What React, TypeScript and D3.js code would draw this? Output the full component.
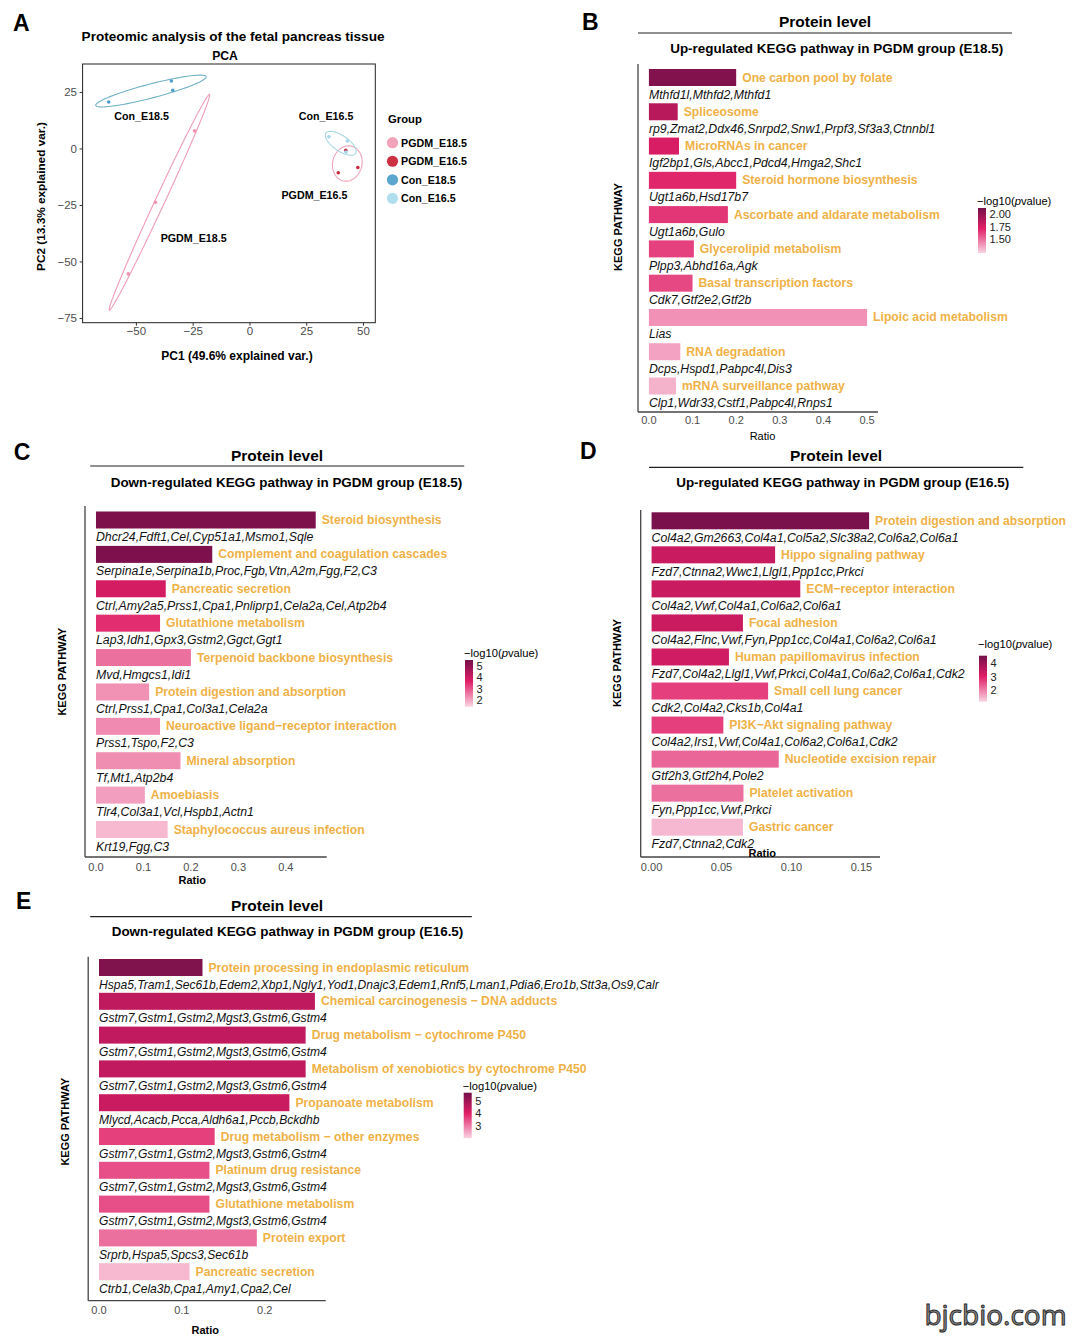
import React from 'react';
import * as d3 from 'd3';

const FONT = "'Liberation Sans', Arial, Helvetica, sans-serif";
const LABEL_ORANGE = '#EFB146';
const pinkRange = ['#FAD3E2', '#E01E66', '#74104A'];

// ---------- Panel A: PCA ----------
const pcaGroups = ['PGDM_E18.5', 'PGDM_E16.5', 'Con_E18.5', 'Con_E16.5'];
const pcaPC1 = [
  [-24.4, -41.6, -53.6],
  [42.2, 38.9, 47.5],
  [-62.2, -34.6, -34.0],
  [34.8, 42.9, 42.3],
];
const pcaPC2 = [
  [8.0, -23.6, -55.3],
  [-0.6, -10.5, -8.2],
  [20.8, 30.1, 26.0],
  [5.4, 3.5, -1.4],
];
const pcaLabelPC1 = [-24.8, 28.4, -47.7, 33.5];
const pcaLabelPC2 = [-39.2, -20.4, 14.7, 14.5];
const pcaTicksX = [-50, -25, 0, 25, 50];
const pcaTicksY = [25, 0, -25, -50, -75];
const pcaPointColors = ['#EE93AE', '#C8283C', '#4F9DCB', '#A6D6EA'];
const pcaEllipseColors = ['#EE9DB5', '#EDA5B7', '#6FB1C6', '#A9D9E0'];
const pcaLegendColors = ['#F2A2B9', '#CC3041', '#5BA6CF', '#B0DEEF'];

// ---------- Panel B ----------
const bNames = ['One carbon pool by folate', 'Spliceosome', 'MicroRNAs in cancer', 'Steroid hormone biosynthesis', 'Ascorbate and aldarate metabolism', 'Glycerolipid metabolism', 'Basal transcription factors', 'Lipoic acid metabolism', 'RNA degradation', 'mRNA surveillance pathway'];
const bGenes = ['Mthfd1l,Mthfd2,Mthfd1', 'rp9,Zmat2,Ddx46,Snrpd2,Snw1,Prpf3,Sf3a3,Ctnnbl1', 'Igf2bp1,Gls,Abcc1,Pdcd4,Hmga2,Shc1', 'Ugt1a6b,Hsd17b7', 'Ugt1a6b,Gulo', 'Plpp3,Abhd16a,Agk', 'Cdk7,Gtf2e2,Gtf2b', 'Lias', 'Dcps,Hspd1,Pabpc4l,Dis3', 'Clp1,Wdr33,Cstf1,Pabpc4l,Rnps1'];
const bRatio = [0.2, 0.066, 0.069, 0.2, 0.181, 0.103, 0.1, 0.5, 0.072, 0.062];
const bLogP = [2.07, 1.87, 1.74, 1.69, 1.65, 1.62, 1.6, 1.4, 1.35, 1.31];
const bXTicks = [0, 0.1, 0.2, 0.3, 0.4, 0.5];
const bLegendTicks = [2.0, 1.75, 1.5];

// ---------- Panel C ----------
const cNames = ['Steroid biosynthesis', 'Complement and coagulation cascades', 'Pancreatic secretion', 'Glutathione metabolism', 'Terpenoid backbone biosynthesis', 'Protein digestion and absorption', 'Neuroactive ligand\u2212receptor interaction', 'Mineral absorption', 'Amoebiasis', 'Staphylococcus aureus infection'];
const cGenes = ['Dhcr24,Fdft1,Cel,Cyp51a1,Msmo1,Sqle', 'Serpina1e,Serpina1b,Proc,Fgb,Vtn,A2m,Fgg,F2,C3', 'Ctrl,Amy2a5,Prss1,Cpa1,Pnliprp1,Cela2a,Cel,Atp2b4', 'Lap3,Idh1,Gpx3,Gstm2,Ggct,Ggt1', 'Mvd,Hmgcs1,Idi1', 'Ctrl,Prss1,Cpa1,Col3a1,Cela2a', 'Prss1,Tspo,F2,C3', 'Tf,Mt1,Atp2b4', 'Tlr4,Col3a1,Vcl,Hspb1,Actn1', 'Krt19,Fgg,C3'];
const cRatio = [0.463, 0.245, 0.147, 0.135, 0.2, 0.112, 0.135, 0.178, 0.103, 0.151];
const cLogP = [5.4, 5.36, 3.88, 3.47, 2.65, 2.23, 2.32, 2.28, 2.07, 1.74];
const cXTicks = [0, 0.1, 0.2, 0.3, 0.4];
const cLegendTicks = [5, 4, 3, 2];

// ---------- Panel D ----------
const dNames = ['Protein digestion and absorption', 'Hippo signaling pathway', 'ECM\u2212receptor interaction', 'Focal adhesion', 'Human papillomavirus infection', 'Small cell lung cancer', 'PI3K\u2212Akt signaling pathway', 'Nucleotide excision repair', 'Platelet activation', 'Gastric cancer'];
const dGenes = ['Col4a2,Gm2663,Col4a1,Col5a2,Slc38a2,Col6a2,Col6a1', 'Fzd7,Ctnna2,Wwc1,Llgl1,Ppp1cc,Prkci', 'Col4a2,Vwf,Col4a1,Col6a2,Col6a1', 'Col4a2,Flnc,Vwf,Fyn,Ppp1cc,Col4a1,Col6a2,Col6a1', 'Fzd7,Col4a2,Llgl1,Vwf,Prkci,Col4a1,Col6a2,Col6a1,Cdk2', 'Cdk2,Col4a2,Cks1b,Col4a1', 'Col4a2,Irs1,Vwf,Col4a1,Col6a2,Col6a1,Cdk2', 'Gtf2h3,Gtf2h4,Pole2', 'Fyn,Ppp1cc,Vwf,Prkci', 'Fzd7,Ctnna2,Cdk2'];
const dRatio = [0.1555, 0.0883, 0.1063, 0.0653, 0.0553, 0.0833, 0.0513, 0.0909, 0.0657, 0.0653];
const dLogP = [4.47, 3.36, 3.36, 3.33, 3.26, 2.67, 2.67, 2.26, 2.16, 1.4];
const dXTicks = [0, 0.05, 0.1, 0.15];
const dLegendTicks = [4, 3, 2];

// ---------- Panel E ----------
const eNames = ['Protein processing in endoplasmic reticulum', 'Chemical carcinogenesis \u2212 DNA adducts', 'Drug metabolism \u2212 cytochrome P450', 'Metabolism of xenobiotics by cytochrome P450', 'Propanoate metabolism', 'Drug metabolism \u2212 other enzymes', 'Platinum drug resistance', 'Glutathione metabolism', 'Protein export', 'Pancreatic secretion'];
const eGenes = ['Hspa5,Tram1,Sec61b,Edem2,Xbp1,Ngly1,Yod1,Dnajc3,Edem1,Rnf5,Lman1,Pdia6,Ero1b,Stt3a,Os9,Calr', 'Gstm7,Gstm1,Gstm2,Mgst3,Gstm6,Gstm4', 'Gstm7,Gstm1,Gstm2,Mgst3,Gstm6,Gstm4', 'Gstm7,Gstm1,Gstm2,Mgst3,Gstm6,Gstm4', 'Mlycd,Acacb,Pcca,Aldh6a1,Pccb,Bckdhb', 'Gstm7,Gstm1,Gstm2,Mgst3,Gstm6,Gstm4', 'Gstm7,Gstm1,Gstm2,Mgst3,Gstm6,Gstm4', 'Gstm7,Gstm1,Gstm2,Mgst3,Gstm6,Gstm4', 'Srprb,Hspa5,Spcs3,Sec61b', 'Ctrb1,Cela3b,Cpa1,Amy1,Cpa2,Cel'];
const eRatio = [0.1249, 0.2606, 0.2494, 0.2494, 0.2298, 0.1396, 0.1333, 0.1333, 0.1905, 0.1093];
const eLogP = [5.46, 4.48, 4.47, 4.47, 4.33, 3.64, 3.46, 3.46, 3.09, 2.29];
const eXTicks = [0, 0.1, 0.2];
const eLegendTicks = [5, 4, 3];

function makeFill(lo: number, hi: number) {
  return d3
    .scaleLinear<string>()
    .domain([lo, lo + 0.55 * (hi - lo), hi])
    .range(pinkRange)
    .interpolate(d3.interpolateRgb)
    .clamp(true);
}

function ellipsePoints(xs: number[], ys: number[]) {
  const n = xs.length;
  const mx = d3.mean(xs) as number;
  const my = d3.mean(ys) as number;
  let sxx = 0, syy = 0, sxy = 0;
  for (let i = 0; i < n; i++) {
    sxx += (xs[i] - mx) ** 2;
    syy += (ys[i] - my) ** 2;
    sxy += (xs[i] - mx) * (ys[i] - my);
  }
  sxx /= n - 1; syy /= n - 1; sxy /= n - 1;
  const a = Math.sqrt(sxx);
  const b = sxy / a;
  const c = Math.sqrt(Math.max(syy - b * b, 0));
  const ed = Math.sqrt(-2 * Math.log(1 - 0.68));
  const pts: [number, number][] = [];
  for (let k = 0; k <= 100; k++) {
    const t = (k / 100) * 2 * Math.PI;
    pts.push([mx + ed * a * Math.cos(t), my + ed * (b * Math.cos(t) + c * Math.sin(t))]);
  }
  return pts;
}

function PCAPanel() {
  const x = d3.scaleLinear().domain([-73.7, 55.2]).range([82.6, 375.3]);
  const y = d3.scaleLinear().domain([-76.9, 37.6]).range([322.7, 64]);
  const line = d3.line<[number, number]>().x((d) => x(d[0])).y((d) => y(d[1])).curve(d3.curveLinearClosed);
  return (
    <g fontFamily={FONT}>
      <text x={13} y={31} fontSize={23} fontWeight="bold">A</text>
      <text x={81.6} y={36} fontSize={13.6} fontWeight="bold" dominantBaseline="central">Proteomic analysis of the fetal pancreas tissue</text>
      <text x={225} y={55.7} fontSize={12.2} fontWeight="bold" textAnchor="middle" dominantBaseline="central">PCA</text>
      <rect x={x.range()[0]} y={y.range()[1]} width={x.range()[1] - x.range()[0]} height={y.range()[0] - y.range()[1]} fill="none" stroke="#222" strokeWidth={1} />
      {pcaTicksX.map((t) => (
        <g key={'xt' + t}>
          <line x1={x(t)} x2={x(t)} y1={y.range()[0]} y2={y.range()[0] + 3} stroke="#333" />
          <text x={x(t)} y={331} fontSize={11.5} fill="#4D4D4D" textAnchor="middle" dominantBaseline="central">{t < 0 ? '\u2212' + Math.abs(t) : t}</text>
        </g>
      ))}
      {pcaTicksY.map((t) => (
        <g key={'yt' + t}>
          <line x1={x.range()[0] - 3} x2={x.range()[0]} y1={y(t)} y2={y(t)} stroke="#333" />
          <text x={77} y={y(t)} fontSize={11.5} fill="#4D4D4D" textAnchor="end" dominantBaseline="central">{t < 0 ? '\u2212' + Math.abs(t) : t}</text>
        </g>
      ))}
      <text x={237} y={356} fontSize={12} fontWeight="bold" textAnchor="middle" dominantBaseline="central">PC1 (49.6% explained var.)</text>
      <text transform={`translate(41.3,196.5) rotate(-90)`} fontSize={11.8} fontWeight="bold" textAnchor="middle" dominantBaseline="central">PC2 (13.3% explained var.)</text>
      {pcaGroups.map((g, gi) => (
        <path key={'el' + g} d={line(ellipsePoints(pcaPC1[gi], pcaPC2[gi])) as string} fill="none" stroke={pcaEllipseColors[gi]} strokeWidth={1.1} />
      ))}
      {pcaGroups.map((g, gi) =>
        pcaPC1[gi].map((v, i) => (
          <circle key={'pt' + g + i} cx={x(v)} cy={y(pcaPC2[gi][i])} r={1.8} fill={pcaPointColors[gi]} />
        ))
      )}
      {pcaGroups.map((g, gi) => (
        <text key={'lb' + g} x={x(pcaLabelPC1[gi])} y={y(pcaLabelPC2[gi])} fontSize={10.7} fontWeight="bold" textAnchor="middle" dominantBaseline="central">{g}</text>
      ))}
      <text x={388} y={119} fontSize={11.3} fontWeight="bold" dominantBaseline="central">Group</text>
      {pcaGroups.map((g, gi) => (
        <g key={'lg' + g}>
          <circle cx={392.5} cy={142.7 + gi * 18.55} r={5.6} fill={pcaLegendColors[gi]} />
          <text x={401} y={142.7 + gi * 18.55} fontSize={10.7} fontWeight="bold" dominantBaseline="central">{g}</text>
        </g>
      ))}
    </g>
  );
}

type PanelCfg = {
  id: string;
  names: string[];
  genes: string[];
  ratio: number[];
  logp: number[];
  xTicks: number[];
  legendTicks: number[];
  tickFmt: string;
  legendFmt: string;
  geneSize: number;
  letter: string;
  letterX: number;
  letterY: number;
  headerCX: number;
  headerY: number;
  lineX1: number;
  lineX2: number;
  lineY: number;
  subtitle: string;
  subCX: number;
  subY: number;
  axisLeft: number;
  axisRight: number;
  axisTop: number;
  axisBottom: number;
  first: number;
  last: number;
  tickY: number;
  ratioX: number;
  ratioY: number;
  ratioBold: boolean;
  keggX: number;
  keggY: number;
  legX: number;
  legTitleY: number;
  legTop: number;
  legBottom: number;
  legLo: number;
  legHi: number;
};

function BarPanel({ cfg }: { cfg: PanelCfg }) {
  const maxR = d3.max(cfg.ratio) as number;
  const x = d3.scaleLinear().domain([-0.05 * maxR, 1.05 * maxR]).range([cfg.axisLeft, cfg.axisRight]);
  const y = d3.scalePoint<string>().domain(cfg.names).range([cfg.first, cfg.last]);
  const fill = makeFill(cfg.legLo, cfg.legHi);
  const barH = 17;
  const legY = d3.scaleLinear().domain([cfg.legLo, cfg.legHi]).range([cfg.legBottom, cfg.legTop]);
  const fmt = d3.format(cfg.tickFmt);
  const lfmt = d3.format(cfg.legendFmt);
  const gradId = 'grad' + cfg.id;
  const stops = d3.range(0, 1.0001, 0.05);
  return (
    <g fontFamily={FONT}>
      <defs>
        <linearGradient id={gradId} x1="0" y1="1" x2="0" y2="0">
          {stops.map((s) => (
            <stop key={s} offset={s} stopColor={fill(cfg.legLo + s * (cfg.legHi - cfg.legLo))} />
          ))}
        </linearGradient>
      </defs>
      <text x={cfg.letterX} y={cfg.letterY} fontSize={23} fontWeight="bold">{cfg.letter}</text>
      <text x={cfg.headerCX} y={cfg.headerY} fontSize={15.5} fontWeight="bold" textAnchor="middle" dominantBaseline="central">Protein level</text>
      <line x1={cfg.lineX1} x2={cfg.lineX2} y1={cfg.lineY} y2={cfg.lineY} stroke="#222" strokeWidth={1.2} />
      <text x={cfg.subCX} y={cfg.subY} fontSize={13.45} fontWeight="bold" textAnchor="middle" dominantBaseline="central">{cfg.subtitle}</text>
      {cfg.names.map((n, i) => {
        const cy = y(n) as number;
        const x0 = x(0);
        const x1 = x(cfg.ratio[i]);
        return (
          <g key={n + i}>
            <rect x={x0} y={cy - barH / 2} width={x1 - x0} height={barH} fill={fill(cfg.logp[i])} />
            <text x={x1 + 6} y={cy} fontSize={12.2} fontWeight="bold" fill={LABEL_ORANGE} dominantBaseline="central">{n}</text>
            <text x={x0} y={cy + 17} fontSize={cfg.geneSize} fontStyle="italic" fill="#111" dominantBaseline="central">{cfg.genes[i]}</text>
          </g>
        );
      })}
      <line x1={cfg.axisLeft} x2={cfg.axisLeft} y1={cfg.axisTop} y2={cfg.axisBottom} stroke="#444" strokeWidth={1.3} />
      <line x1={cfg.axisLeft} x2={cfg.axisRight} y1={cfg.axisBottom} y2={cfg.axisBottom} stroke="#444" strokeWidth={1.3} />
      {cfg.xTicks.map((t) => (
        <text key={'t' + t} x={x(t)} y={cfg.tickY} fontSize={11} fill="#4D4D4D" textAnchor="middle" dominantBaseline="central">{fmt(t)}</text>
      ))}
      <text x={cfg.ratioX} y={cfg.ratioY} fontSize={11} fontWeight={cfg.ratioBold ? 'bold' : 'normal'} textAnchor="middle" dominantBaseline="central">Ratio</text>
      <text transform={`translate(${cfg.keggX},${cfg.keggY}) rotate(-90)`} fontSize={11} fontWeight="bold" textAnchor="middle" dominantBaseline="central">KEGG PATHWAY</text>
      <text x={cfg.legX - 1} y={cfg.legTitleY} fontSize={11.2} dominantBaseline="central">
        <tspan>{'\u2212log10('}</tspan>
        <tspan fontStyle="italic">p</tspan>
        <tspan>value)</tspan>
      </text>
      <rect x={cfg.legX} y={cfg.legTop} width={8} height={cfg.legBottom - cfg.legTop} fill={`url(#${gradId})`} />
      {cfg.legendTicks.map((t) => (
        <text key={'l' + t} x={cfg.legX + 11.5} y={legY(t)} fontSize={11} fill="#222" dominantBaseline="central">{lfmt(t)}</text>
      ))}
    </g>
  );
}

const panelB: PanelCfg = {
  id: 'B', names: bNames, genes: bGenes, ratio: bRatio, logp: bLogP, xTicks: bXTicks, legendTicks: bLegendTicks,
  tickFmt: '.1f', legendFmt: '.2f', geneSize: 12.3, letter: 'B', letterX: 582, letterY: 30,
  headerCX: 825, headerY: 21, lineX1: 638, lineX2: 1012, lineY: 33,
  subtitle: 'Up-regulated KEGG pathway in PGDM group (E18.5)', subCX: 836.7, subY: 48.3,
  axisLeft: 638, axisRight: 878, axisTop: 64, axisBottom: 412, first: 77.5, last: 386,
  tickY: 420, ratioX: 762.5, ratioY: 435.5, ratioBold: false, keggX: 618, keggY: 227,
  legX: 978, legTitleY: 200.5, legTop: 208, legBottom: 253, legLo: 1.22, legHi: 2.12,
};
const panelC: PanelCfg = {
  id: 'C', names: cNames, genes: cGenes, ratio: cRatio, logp: cLogP, xTicks: cXTicks, legendTicks: cLegendTicks,
  tickFmt: '.1f', legendFmt: 'd', geneSize: 12.3, letter: 'C', letterX: 13.8, letterY: 460,
  headerCX: 277, headerY: 455, lineX1: 90.2, lineX2: 464.2, lineY: 466,
  subtitle: 'Down-regulated KEGG pathway in PGDM group (E18.5)', subCX: 286.5, subY: 482.7,
  axisLeft: 85, axisRight: 326.7, axisTop: 506, axisBottom: 857, first: 520, last: 829.5,
  tickY: 866.7, ratioX: 192.3, ratioY: 880, ratioBold: true, keggX: 61.7, keggY: 671.7,
  legX: 465, legTitleY: 653, legTop: 660, legBottom: 706.7, legLo: 1.41, legHi: 5.53,
};
const panelD: PanelCfg = {
  id: 'D', names: dNames, genes: dGenes, ratio: dRatio, logp: dLogP, xTicks: dXTicks, legendTicks: dLegendTicks,
  tickFmt: '.2f', legendFmt: 'd', geneSize: 12.3, letter: 'D', letterX: 580, letterY: 458.5,
  headerCX: 836, headerY: 455, lineX1: 649, lineX2: 1023.3, lineY: 467.3,
  subtitle: 'Up-regulated KEGG pathway in PGDM group (E16.5)', subCX: 842.7, subY: 482.7,
  axisLeft: 640.7, axisRight: 880, axisTop: 510, axisBottom: 857, first: 520.8, last: 827.2,
  tickY: 866.7, ratioX: 762.3, ratioY: 852.7, ratioBold: true, keggX: 617, keggY: 663,
  legX: 979, legTitleY: 644, legTop: 655.7, legBottom: 701.7, legLo: 1.12, legHi: 4.57,
};
const panelE: PanelCfg = {
  id: 'E', names: eNames, genes: eGenes, ratio: eRatio, logp: eLogP, xTicks: eXTicks, legendTicks: eLegendTicks,
  tickFmt: '.1f', legendFmt: 'd', geneSize: 12.1, letter: 'E', letterX: 16, letterY: 909,
  headerCX: 277, headerY: 905, lineX1: 90.2, lineX2: 471.8, lineY: 916.7,
  subtitle: 'Down-regulated KEGG pathway in PGDM group (E16.5)', subCX: 287.5, subY: 931.7,
  axisLeft: 88.2, axisRight: 325.7, axisTop: 956.7, axisBottom: 1300.7, first: 967.5, last: 1271.7,
  tickY: 1310, ratioX: 205.3, ratioY: 1330, ratioBold: true, keggX: 64.5, keggY: 1121.7,
  legX: 463.7, legTitleY: 1085.7, legTop: 1092.7, legBottom: 1138.3, legLo: 2.0, legHi: 5.64,
};

export default function App() {
  return (
    <svg width={1080} height={1340} viewBox="0 0 1080 1340" style={{ position: 'absolute', left: 0, top: 0, background: '#fff' }}>
      <rect x={0} y={0} width={1080} height={1340} fill="#fff" />
      <PCAPanel />
      <BarPanel cfg={panelB} />
      <BarPanel cfg={panelC} />
      <BarPanel cfg={panelD} />
      <BarPanel cfg={panelE} />
      <text x={995.5} y={1324.5} fontFamily="'Open Sans', 'DejaVu Sans', sans-serif" fontSize={28} textAnchor="middle" fill="#8c8c8c" stroke="#2b2b2b" strokeWidth={1}>bjcbio.com</text>
    </svg>
  );
}
